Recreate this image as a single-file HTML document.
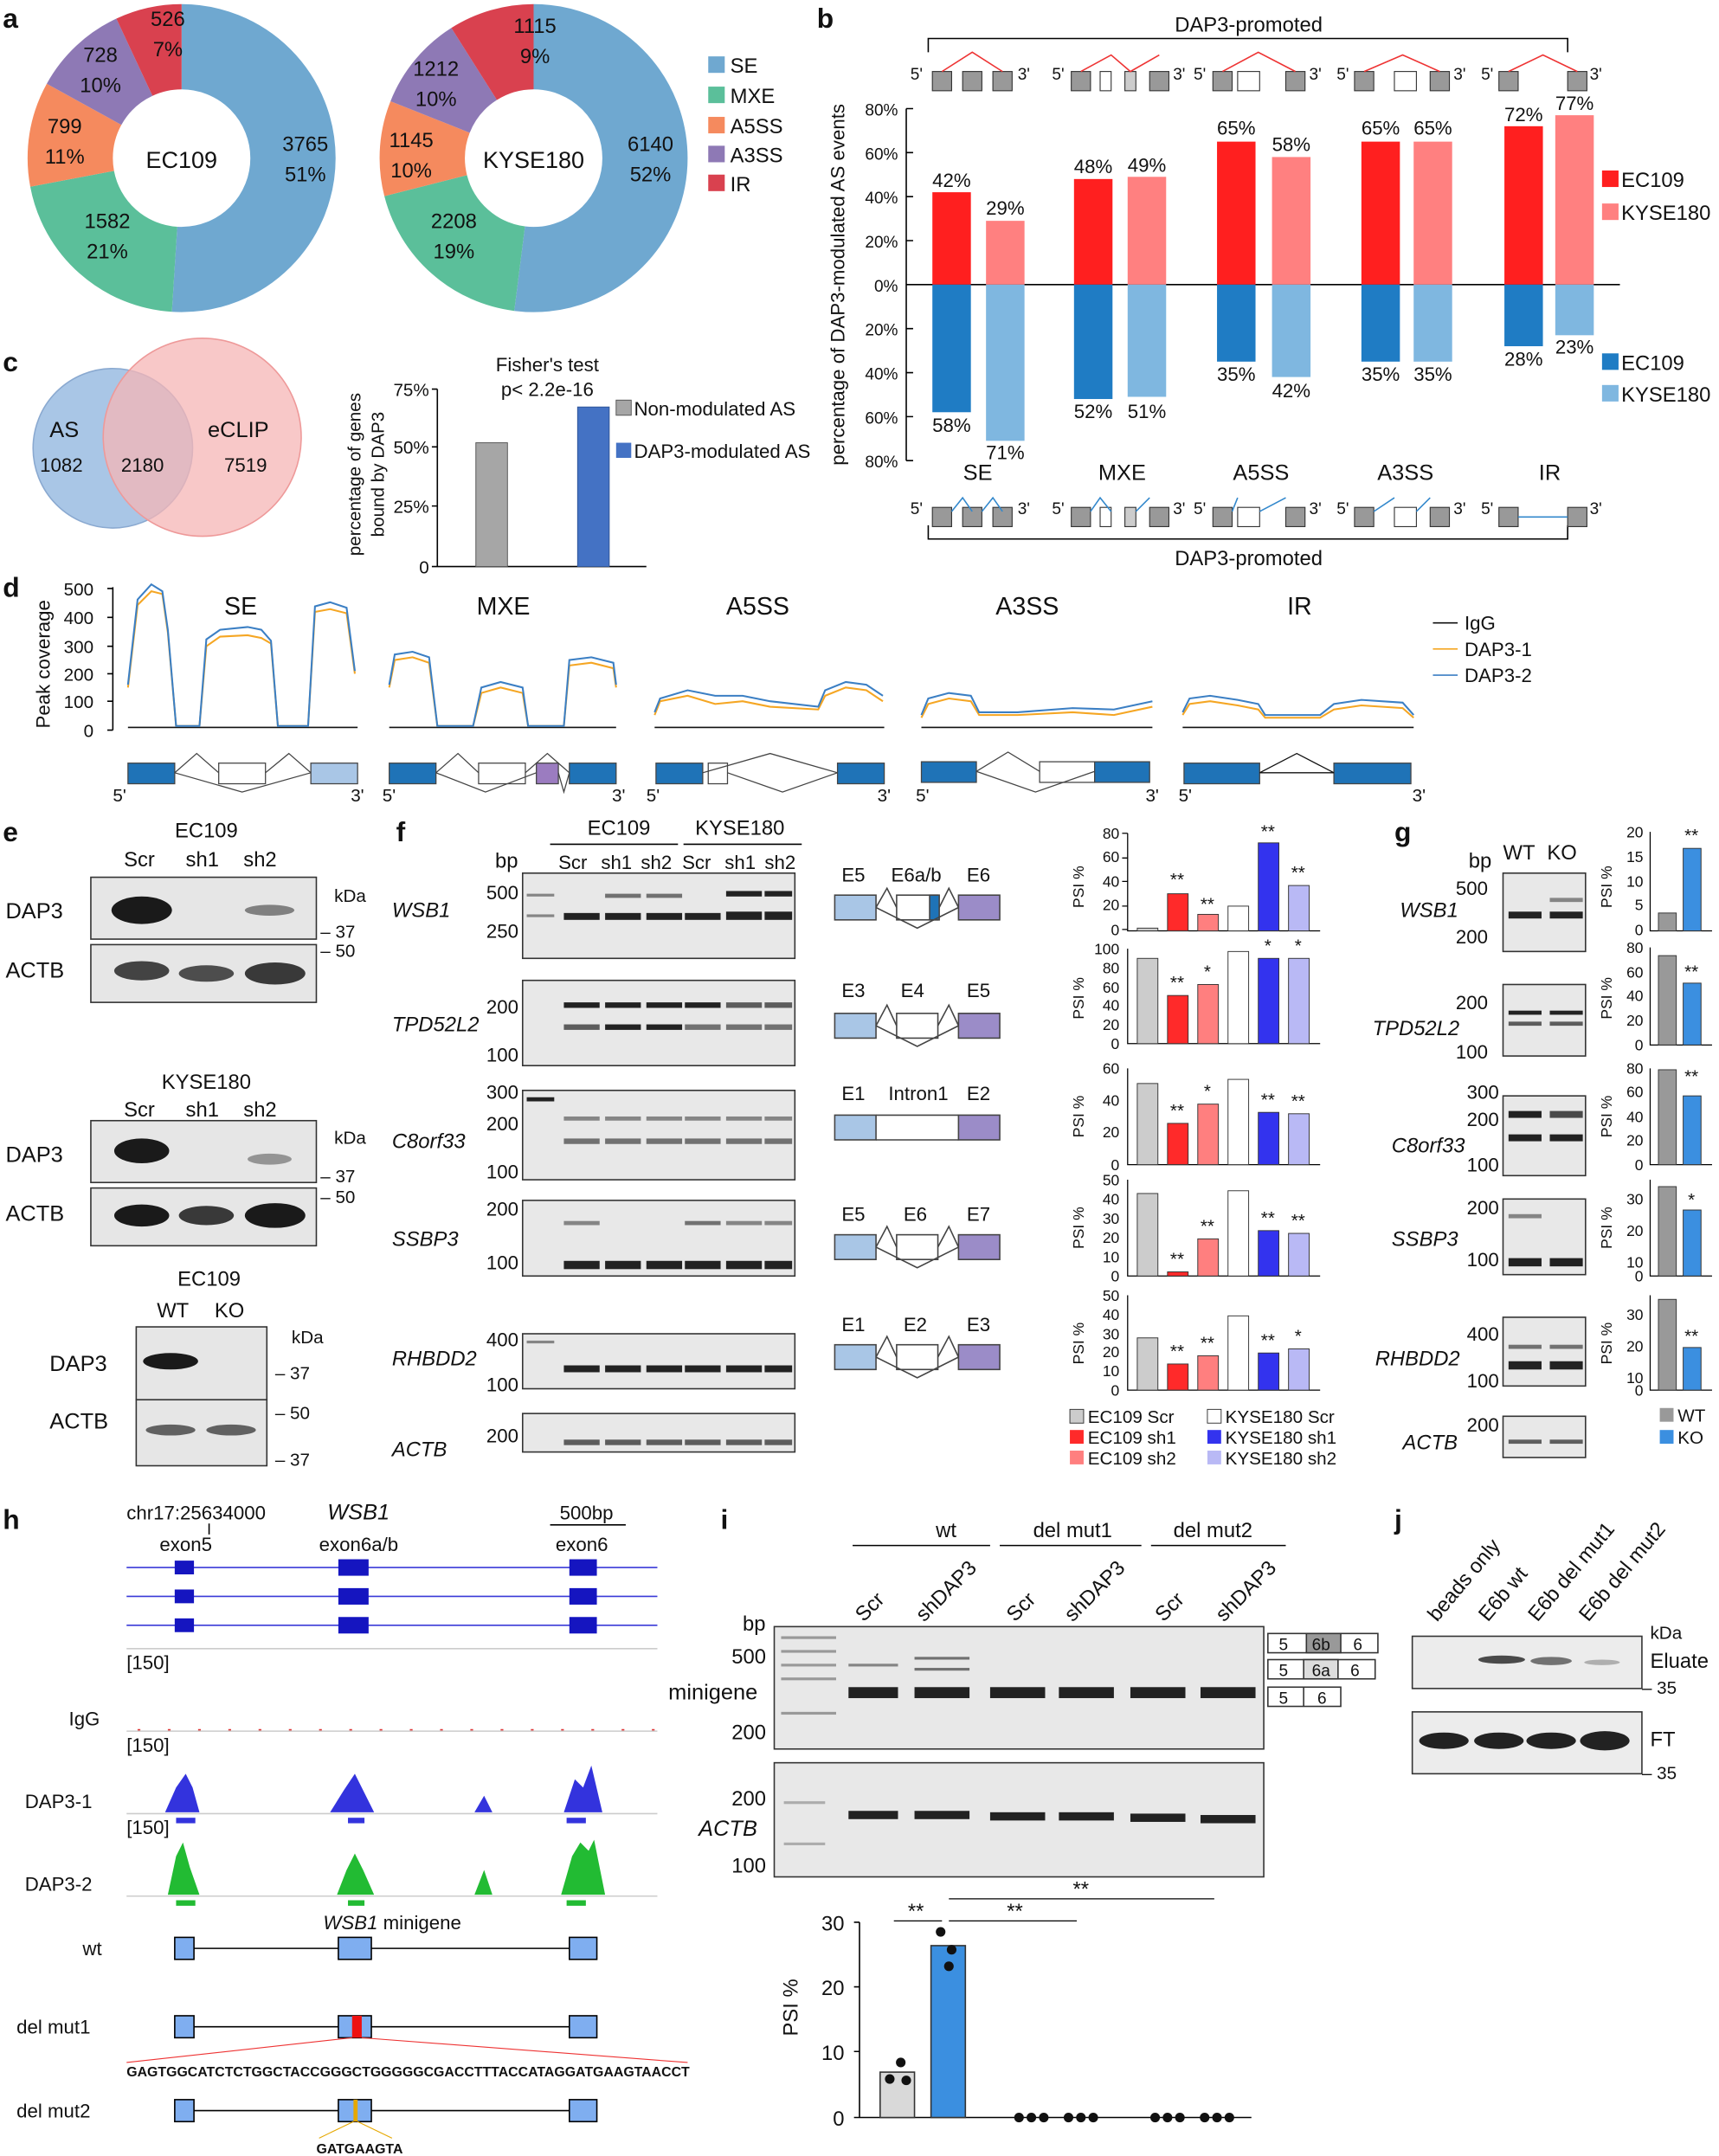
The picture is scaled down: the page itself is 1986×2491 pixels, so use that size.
<!DOCTYPE html>
<html><head><meta charset="utf-8"><style>
html,body{margin:0;padding:0;background:#fff}
svg{display:block}
text{font-family:"Liberation Sans",Arial,sans-serif;fill:#111}
.L{font-weight:bold;font-size:20px}
.t{font-size:15px}
.s{font-size:12px}
.xs{font-size:10px}
.i{font-style:italic}
</style></head><body>
<svg width="1986" height="2491" viewBox="0 0 1250 1568" xmlns="http://www.w3.org/2000/svg">
<rect width="1250" height="1568" fill="#fff"/>
<text class="L" x="2" y="20">a</text><text class="L" x="594" y="20">b</text>
<text class="L" x="2" y="270">c</text><text class="L" x="2" y="434">d</text>
<text class="L" x="2" y="612">e</text><text class="L" x="288" y="612">f</text>
<text class="L" x="1014" y="612">g</text><text class="L" x="2" y="1112">h</text>
<text class="L" x="524" y="1112">i</text><text class="L" x="1014" y="1112">j</text>

<g transform="rotate(-90 132 115)" fill="none" stroke-width="62">
<circle cx="132" cy="115" r="81" stroke="#6fa8d0" stroke-dasharray="259.5 600" stroke-dashoffset="0"/>
<circle cx="132" cy="115" r="81" stroke="#5bbf9a" stroke-dasharray="106.9 600" stroke-dashoffset="-259.5"/>
<circle cx="132" cy="115" r="81" stroke="#f58a5e" stroke-dasharray="56 600" stroke-dashoffset="-366.4"/>
<circle cx="132" cy="115" r="81" stroke="#8e79b5" stroke-dasharray="50.9 600" stroke-dashoffset="-422.4"/>
<circle cx="132" cy="115" r="81" stroke="#d9414f" stroke-dasharray="35.6 600" stroke-dashoffset="-473.3"/>
</g>
<g transform="rotate(-90 388 115)" fill="none" stroke-width="62">
<circle cx="388" cy="115" r="81" stroke="#6fa8d0" stroke-dasharray="264.6 600" stroke-dashoffset="0"/>
<circle cx="388" cy="115" r="81" stroke="#5bbf9a" stroke-dasharray="96.7 600" stroke-dashoffset="-264.6"/>
<circle cx="388" cy="115" r="81" stroke="#f58a5e" stroke-dasharray="50.9 600" stroke-dashoffset="-361.3"/>
<circle cx="388" cy="115" r="81" stroke="#8e79b5" stroke-dasharray="50.9 600" stroke-dashoffset="-412.2"/>
<circle cx="388" cy="115" r="81" stroke="#d9414f" stroke-dasharray="45.8 600" stroke-dashoffset="-463.1"/>
</g>
<g class="t" text-anchor="middle" font-size="16">
<text x="132" y="122" style="font-size:17px">EC109</text>
<text x="222" y="110">3765</text><text x="222" y="132">51%</text>
<text x="78" y="166">1582</text><text x="78" y="188">21%</text>
<text x="47" y="97">799</text><text x="47" y="119">11%</text>
<text x="73" y="45">728</text><text x="73" y="67">10%</text>
<text x="122" y="19">526</text><text x="122" y="41">7%</text>
<text x="388" y="122" style="font-size:17px">KYSE180</text>
<text x="473" y="110">6140</text><text x="473" y="132">52%</text>
<text x="330" y="166">2208</text><text x="330" y="188">19%</text>
<text x="299" y="107">1145</text><text x="299" y="129">10%</text>
<text x="317" y="55">1212</text><text x="317" y="77">10%</text>
<text x="389" y="24">1115</text><text x="389" y="46">9%</text>
</g>
<g class="t">
<rect x="515" y="41" width="12" height="12" fill="#6fa8d0"/><text x="531" y="53">SE</text>
<rect x="515" y="63" width="12" height="12" fill="#5bbf9a"/><text x="531" y="75">MXE</text>
<rect x="515" y="85" width="12" height="12" fill="#f58a5e"/><text x="531" y="97">A5SS</text>
<rect x="515" y="106" width="12" height="12" fill="#8e79b5"/><text x="531" y="118">A3SS</text>
<rect x="515" y="127" width="12" height="12" fill="#d9414f"/><text x="531" y="139">IR</text>
</g>

<path d="M675 38V28H1140V38" stroke="#000" fill="none"/>
<text class="t" x="908" y="23" text-anchor="middle">DAP3-promoted</text>
<path d="M675 382V392H1140V382" stroke="#000" fill="none"/>
<text class="t" x="908" y="411" text-anchor="middle">DAP3-promoted</text>
<g fill="#999" stroke="#333" stroke-width="0.7">
<rect x="678" y="52" width="14" height="14"/><rect x="700" y="52" width="14" height="14"/><rect x="722" y="52" width="14" height="14"/>
<rect x="779" y="52" width="14" height="14"/><rect x="800" y="52" width="8" height="14" fill="#fff"/><rect x="818" y="52" width="8" height="14" fill="#ccc"/><rect x="836" y="52" width="14" height="14"/>
<rect x="882" y="52" width="14" height="14"/><rect x="900" y="52" width="16" height="14" fill="#fff"/><rect x="935" y="52" width="14" height="14"/>
<rect x="985" y="52" width="14" height="14"/><rect x="1014" y="52" width="16" height="14" fill="#fff"/><rect x="1040" y="52" width="14" height="14"/>
<rect x="1090" y="52" width="14" height="14"/><rect x="1140" y="52" width="14" height="14"/>
<rect x="678" y="369" width="14" height="14"/><rect x="700" y="369" width="14" height="14"/><rect x="722" y="369" width="14" height="14"/>
<rect x="779" y="369" width="14" height="14"/><rect x="800" y="369" width="8" height="14" fill="#fff"/><rect x="818" y="369" width="8" height="14" fill="#ccc"/><rect x="836" y="369" width="14" height="14"/>
<rect x="882" y="369" width="14" height="14"/><rect x="900" y="369" width="16" height="14" fill="#fff"/><rect x="935" y="369" width="14" height="14"/>
<rect x="985" y="369" width="14" height="14"/><rect x="1014" y="369" width="16" height="14" fill="#fff"/><rect x="1040" y="369" width="14" height="14"/>
<rect x="1090" y="369" width="14" height="14"/><rect x="1140" y="369" width="14" height="14"/>
</g>
<g fill="none" stroke="#e33" stroke-width="1">
<path d="M685 52L707 38L729 52"/><path d="M786 52L808 40L822 52L843 40"/><path d="M889 52L915 38L942 52"/><path d="M992 52L1020 40L1047 52"/><path d="M1097 52L1122 40L1147 52"/>
</g>
<g fill="none" stroke="#38c" stroke-width="1">
<path d="M692 372L700 362L707 372M714 372L722 362L729 372"/><path d="M793 372L800 362L808 372M826 372L836 362"/><path d="M896 372L900 362M916 372L935 362"/><path d="M999 372L1014 362M1030 372L1040 362"/><path d="M1104 376H1140"/>
</g>
<g class="s">
<text x="662" y="58">5'</text><text x="740" y="58">3'</text><text x="765" y="58">5'</text><text x="853" y="58">3'</text><text x="868" y="58">5'</text><text x="952" y="58">3'</text><text x="972" y="58">5'</text><text x="1057" y="58">3'</text><text x="1077" y="58">5'</text><text x="1156" y="58">3'</text>
<text x="662" y="374">5'</text><text x="740" y="374">3'</text><text x="765" y="374">5'</text><text x="853" y="374">3'</text><text x="868" y="374">5'</text><text x="952" y="374">3'</text><text x="972" y="374">5'</text><text x="1057" y="374">3'</text><text x="1077" y="374">5'</text><text x="1156" y="374">3'</text>
</g>
<g class="s" text-anchor="end" font-size="13">
<text x="653" y="84">80%</text><text x="653" y="116">60%</text><text x="653" y="148">40%</text><text x="653" y="180">20%</text><text x="653" y="212">0%</text><text x="653" y="244">20%</text><text x="653" y="276">40%</text><text x="653" y="308">60%</text><text x="653" y="340">80%</text>
</g>
<path d="M659 79V335M659 79H664M659 111H664M659 143H664M659 175H664M659 207H1178M659 239H664M659 271H664M659 303H664M659 335H664" stroke="#000" fill="none"/>
<text class="t" transform="translate(614 207) rotate(-90)" text-anchor="middle" style="font-size:14px">percentage of DAP3-modulated AS events</text>
<g>
<rect x="678" y="139.8" width="28" height="67.2" fill="#ff1f1f"/><rect x="717" y="160.6" width="28" height="46.4" fill="#ff8080"/>
<rect x="781" y="130.2" width="28" height="76.8" fill="#ff1f1f"/><rect x="820" y="128.6" width="28" height="78.4" fill="#ff8080"/>
<rect x="885" y="103" width="28" height="104" fill="#ff1f1f"/><rect x="925" y="114.2" width="28" height="92.8" fill="#ff8080"/>
<rect x="990" y="103" width="28" height="104" fill="#ff1f1f"/><rect x="1028" y="103" width="28" height="104" fill="#ff8080"/>
<rect x="1094" y="91.8" width="28" height="115.2" fill="#ff1f1f"/><rect x="1131" y="83.8" width="28" height="123.2" fill="#ff8080"/>
<rect x="678" y="207" width="28" height="92.8" fill="#1f7cc4"/><rect x="717" y="207" width="28" height="113.6" fill="#7fb7e0"/>
<rect x="781" y="207" width="28" height="83.2" fill="#1f7cc4"/><rect x="820" y="207" width="28" height="81.6" fill="#7fb7e0"/>
<rect x="885" y="207" width="28" height="56" fill="#1f7cc4"/><rect x="925" y="207" width="28" height="67.2" fill="#7fb7e0"/>
<rect x="990" y="207" width="28" height="56" fill="#1f7cc4"/><rect x="1028" y="207" width="28" height="56" fill="#7fb7e0"/>
<rect x="1094" y="207" width="28" height="44.8" fill="#1f7cc4"/><rect x="1131" y="207" width="28" height="36.8" fill="#7fb7e0"/>
</g>
<g class="t" text-anchor="middle" style="font-size:14px">
<text x="692" y="136">42%</text><text x="731" y="156">29%</text><text x="795" y="126">48%</text><text x="834" y="125">49%</text>
<text x="899" y="98">65%</text><text x="939" y="110">58%</text><text x="1004" y="98">65%</text><text x="1042" y="98">65%</text>
<text x="1108" y="88">72%</text><text x="1145" y="80">77%</text>
<text x="692" y="314">58%</text><text x="731" y="334">71%</text><text x="795" y="304">52%</text><text x="834" y="304">51%</text>
<text x="899" y="277">35%</text><text x="939" y="289">42%</text><text x="1004" y="277">35%</text><text x="1042" y="277">35%</text>
<text x="1108" y="266">28%</text><text x="1145" y="257">23%</text>
<text x="711" y="349" style="font-size:16px">SE</text><text x="816" y="349" style="font-size:16px">MXE</text><text x="917" y="349" style="font-size:16px">A5SS</text><text x="1022" y="349" style="font-size:16px">A3SS</text><text x="1127" y="349" style="font-size:16px">IR</text>
</g>
<g class="t">
<rect x="1165" y="124" width="12" height="12" fill="#ff1f1f"/><text x="1179" y="136">EC109</text>
<rect x="1165" y="148" width="12" height="12" fill="#ff8080"/><text x="1179" y="160">KYSE180</text>
<rect x="1165" y="257" width="12" height="12" fill="#1f7cc4"/><text x="1179" y="269">EC109</text>
<rect x="1165" y="280" width="12" height="12" fill="#7fb7e0"/><text x="1179" y="292">KYSE180</text>
</g>

<circle cx="82" cy="326" r="58" fill="#a9c6e6" stroke="#8aa9d0"/>
<circle cx="147" cy="318" r="72" fill="#f6b6b6" fill-opacity="0.75" stroke="#e99"/>
<g class="t" style="font-size:16px"><text x="36" y="318">AS</text><text x="151" y="318">eCLIP</text></g>
<g class="t" style="font-size:14px"><text x="29" y="343">1082</text><text x="88" y="343">2180</text><text x="163" y="343">7519</text></g>
<text class="t" x="398" y="270" text-anchor="middle" style="font-size:14px">Fisher's test</text>
<text class="t" x="398" y="288" text-anchor="middle" style="font-size:14px">p&lt; 2.2e-16</text>
<path d="M318 283V412H470M314 283H318M314 325H318M314 368H318M314 412H318" stroke="#000" fill="none"/>
<g class="s" text-anchor="end" style="font-size:13px"><text x="312" y="288">75%</text><text x="312" y="330">50%</text><text x="312" y="373">25%</text><text x="312" y="417">0</text></g>
<text class="s" transform="translate(262 345) rotate(-90)" text-anchor="middle" style="font-size:13px">percentage of genes</text>
<text class="s" transform="translate(279 345) rotate(-90)" text-anchor="middle" style="font-size:13px">bound by DAP3</text>
<rect x="346" y="322" width="23" height="90" fill="#a6a6a6" stroke="#555" stroke-width="0.6"/>
<rect x="420" y="296" width="23" height="116" fill="#4472c4" stroke="#2f5597" stroke-width="0.6"/>
<g class="t" style="font-size:14px">
<rect x="448" y="291" width="11" height="11" fill="#a6a6a6" stroke="#555" stroke-width="0.6"/><text x="461" y="302">Non-modulated AS</text>
<rect x="448" y="322" width="11" height="11" fill="#4472c4"/><text x="461" y="333">DAP3-modulated AS</text>
</g>

<path d="M82 427V531M78 428H82M78 449H82M78 470H82M78 490H82M78 510H82M78 531H82" stroke="#000" fill="none"/>
<g class="s" text-anchor="end" style="font-size:13px"><text x="68" y="433">500</text><text x="68" y="454">400</text><text x="68" y="475">300</text><text x="68" y="495">200</text><text x="68" y="515">100</text><text x="68" y="536">0</text></g>
<text class="t" transform="translate(36 483) rotate(-90)" text-anchor="middle" style="font-size:14px">Peak coverage</text>
<g class="t" style="font-size:18px" text-anchor="middle"><text x="175" y="447">SE</text><text x="366" y="447">MXE</text><text x="551" y="447">A5SS</text><text x="747" y="447">A3SS</text><text x="945" y="447">IR</text></g>
<g fill="none" stroke="#111" stroke-width="1"><path d="M93 529H260M283 529H448M476 529H643M670 529H838M860 529H1028"/></g>
<g fill="none" stroke="#f5a623" stroke-width="1.3">
<path d="M93 500L100 440L110 430L118 432L122 460L128 528L145 528L150 470L160 463L180 462L190 464L197 468L202 528L224 528L229 445L240 443L252 446L258 490"/>
<path d="M283 500L287 480L300 478L312 482L318 528L344 528L350 504L364 500L380 504L384 528L410 528L414 484L430 482L446 486L448 500"/>
<path d="M476 520L480 510L500 506L520 512L540 510L560 514L595 516L600 506L615 500L630 502L642 510"/>
<path d="M670 522L675 512L690 508L706 510L712 520L740 520L780 518L810 520L838 514"/>
<path d="M860 520L865 512L880 510L900 513L915 516L920 522L960 522L970 516L990 513L1020 515L1028 522"/>
</g>
<g fill="none" stroke="#3b7fc4" stroke-width="1.3">
<path d="M93 498L100 436L110 425L118 430L122 458L128 528L145 528L150 465L160 458L180 456L190 458L197 466L202 528L224 528L229 441L240 438L252 442L258 488"/>
<path d="M283 498L287 476L300 474L312 478L318 528L344 528L350 500L364 496L380 500L384 528L410 528L414 480L430 478L446 482L448 498"/>
<path d="M476 518L480 508L500 502L520 506L540 506L560 510L595 514L600 502L615 496L630 498L642 506"/>
<path d="M670 520L675 508L690 504L706 506L712 518L740 518L780 515L810 516L838 510"/>
<path d="M860 518L865 508L880 506L900 509L915 512L920 520L960 520L970 512L990 509L1020 511L1028 520"/>
</g>
<g class="t" style="font-size:14px">
<path d="M1042 453H1060" stroke="#111"/><text x="1065" y="458">IgG</text>
<path d="M1042 472H1060" stroke="#f5a623"/><text x="1065" y="477">DAP3-1</text>
<path d="M1042 491H1060" stroke="#3b7fc4"/><text x="1065" y="496">DAP3-2</text>
</g>
<g stroke="#444" stroke-width="0.8" fill="none">
<rect x="93" y="555" width="34" height="15" fill="#1f73b7"/><rect x="159" y="555" width="34" height="15" fill="#fff"/><rect x="226" y="555" width="34" height="15" fill="#a9c6e6"/>
<path d="M127 562L143 548L159 562M193 562L210 548L226 562M127 562L176 576L226 562"/>
<rect x="283" y="555" width="34" height="15" fill="#1f73b7"/><rect x="348" y="555" width="34" height="15" fill="#fff"/><rect x="390" y="555" width="16" height="15" fill="#9b7cc0"/><rect x="414" y="555" width="34" height="15" fill="#1f73b7"/>
<path d="M317 562L333 548L348 562M382 562L398 548L414 562M317 562L353 576L390 562M406 562L410 576L414 562"/>
<rect x="477" y="555" width="34" height="15" fill="#1f73b7"/><rect x="515" y="555" width="14" height="15" fill="#fff"/><rect x="609" y="555" width="34" height="15" fill="#1f73b7"/>
<path d="M511 562L560 548L609 562M529 562L569 576L609 562"/>
<rect x="670" y="554" width="40" height="15" fill="#1f73b7"/><rect x="756" y="554" width="40" height="15" fill="#fff"/><rect x="796" y="554" width="40" height="15" fill="#1f73b7"/>
<path d="M710 561L733 547L756 561M710 561L753 576L796 561"/>
<rect x="861" y="555" width="55" height="15" fill="#1f73b7"/><rect x="970" y="555" width="56" height="15" fill="#1f73b7"/>
<path d="M916 562L943 548L970 562M916 562H970" stroke="#111"/>
</g>
<g class="s" style="font-size:13px"><text x="82" y="583">5'</text><text x="255" y="583">3'</text><text x="278" y="583">5'</text><text x="445" y="583">3'</text><text x="470" y="583">5'</text><text x="638" y="583">3'</text><text x="666" y="583">5'</text><text x="833" y="583">3'</text><text x="857" y="583">5'</text><text x="1027" y="583">3'</text></g>

<g class="t">
<text x="150" y="609" text-anchor="middle">EC109</text>
<text x="90" y="630">Scr</text><text x="135" y="630">sh1</text><text x="177" y="630">sh2</text>
<text x="4" y="668" style="font-size:16px">DAP3</text><text x="4" y="711" style="font-size:16px">ACTB</text>
<text x="150" y="792" text-anchor="middle">KYSE180</text>
<text x="90" y="812">Scr</text><text x="135" y="812">sh1</text><text x="177" y="812">sh2</text>
<text x="4" y="845" style="font-size:16px">DAP3</text><text x="4" y="888" style="font-size:16px">ACTB</text>
<text x="152" y="935" text-anchor="middle">EC109</text>
<text x="114" y="958">WT</text><text x="156" y="958">KO</text>
<text x="36" y="997" style="font-size:16px">DAP3</text><text x="36" y="1039" style="font-size:16px">ACTB</text>
</g>
<g class="s" style="font-size:13px">
<text x="243" y="656">kDa</text><text x="233" y="682">– 37</text><text x="233" y="696">– 50</text>
<text x="243" y="832">kDa</text><text x="233" y="860">– 37</text><text x="233" y="875">– 50</text>
<text x="212" y="977">kDa</text><text x="200" y="1003">– 37</text><text x="200" y="1032">– 50</text><text x="200" y="1066">– 37</text>
</g>
<g fill="#e6e6e6" stroke="#333" stroke-width="1">
<rect x="66" y="638" width="164" height="45"/><rect x="66" y="687" width="164" height="42"/>
<rect x="66" y="815" width="164" height="45"/><rect x="66" y="864" width="164" height="42"/>
<rect x="99" y="965" width="95" height="53"/><rect x="99" y="1018" width="95" height="48"/>
</g>
<g fill="#1a1a1a">
<ellipse cx="103" cy="662" rx="22" ry="10"/><ellipse cx="196" cy="662" rx="18" ry="4" opacity=".5"/>
<ellipse cx="103" cy="706" rx="20" ry="7" opacity=".8"/><ellipse cx="150" cy="708" rx="20" ry="6" opacity=".75"/><ellipse cx="200" cy="708" rx="22" ry="8" opacity=".85"/>
<ellipse cx="103" cy="837" rx="20" ry="9"/><ellipse cx="196" cy="843" rx="16" ry="4" opacity=".4"/>
<ellipse cx="103" cy="884" rx="20" ry="8"/><ellipse cx="150" cy="884" rx="20" ry="7" opacity=".85"/><ellipse cx="200" cy="884" rx="22" ry="9"/>
<ellipse cx="124" cy="990" rx="20" ry="6"/>
<ellipse cx="124" cy="1040" rx="18" ry="4" opacity=".65"/><ellipse cx="168" cy="1040" rx="18" ry="4" opacity=".65"/>
</g>

<g class="t">
<text x="450" y="607" text-anchor="middle">EC109</text><text x="538" y="607" text-anchor="middle">KYSE180</text>
<path d="M400 614H493M497 614H583" stroke="#000"/>
<g style="font-size:14px"><text x="406" y="632">Scr</text><text x="437" y="632">sh1</text><text x="466" y="632">sh2</text><text x="496" y="632">Scr</text><text x="527" y="632">sh1</text><text x="556" y="632">sh2</text></g>
<text x="360" y="631">bp</text>
<g class="i"><text x="285" y="667">WSB1</text><text x="285" y="750">TPD52L2</text><text x="285" y="835">C8orf33</text><text x="285" y="906">SSBP3</text><text x="285" y="993">RHBDD2</text><text x="285" y="1059">ACTB</text></g>
<g text-anchor="end" style="font-size:14px"><text x="377" y="654">500</text><text x="377" y="682">250</text><text x="377" y="737">200</text><text x="377" y="772">100</text><text x="377" y="799">300</text><text x="377" y="822">200</text><text x="377" y="857">100</text><text x="377" y="884">200</text><text x="377" y="923">100</text><text x="377" y="979">400</text><text x="377" y="1012">100</text><text x="377" y="1049">200</text></g>
</g>
<g fill="#e8e8e8" stroke="#333">
<rect x="380" y="635" width="198" height="62"/><rect x="380" y="713" width="198" height="62"/><rect x="380" y="793" width="198" height="65"/><rect x="380" y="873" width="198" height="55"/><rect x="380" y="970" width="198" height="40"/><rect x="380" y="1028" width="198" height="28"/>
</g>
<g fill="#222">
<rect x="410" y="664" width="26" height="5"/><rect x="440" y="664" width="26" height="5"/><rect x="470" y="664" width="26" height="5"/><rect x="498" y="664" width="26" height="5"/><rect x="528" y="663" width="26" height="6"/><rect x="556" y="663" width="20" height="6"/>
<rect x="440" y="650" width="26" height="3" opacity=".6"/><rect x="470" y="650" width="26" height="3" opacity=".6"/><rect x="528" y="648" width="26" height="4"/><rect x="556" y="648" width="20" height="4"/>
<rect x="410" y="729" width="26" height="4"/><rect x="440" y="729" width="26" height="4"/><rect x="470" y="729" width="26" height="4"/><rect x="498" y="729" width="26" height="4"/><rect x="528" y="729" width="26" height="4" opacity=".7"/><rect x="556" y="729" width="20" height="4" opacity=".7"/>
<rect x="410" y="745" width="26" height="4" opacity=".7"/><rect x="440" y="745" width="26" height="4"/><rect x="470" y="745" width="26" height="4"/><rect x="498" y="745" width="26" height="4" opacity=".6"/><rect x="528" y="745" width="26" height="4" opacity=".6"/><rect x="556" y="745" width="20" height="4" opacity=".6"/>
<rect x="410" y="812" width="26" height="3" opacity=".5"/><rect x="440" y="812" width="26" height="3" opacity=".5"/><rect x="470" y="812" width="26" height="3" opacity=".5"/><rect x="498" y="812" width="26" height="3" opacity=".5"/><rect x="528" y="812" width="26" height="3" opacity=".5"/><rect x="556" y="812" width="20" height="3" opacity=".5"/>
<rect x="410" y="828" width="26" height="4" opacity=".6"/><rect x="440" y="828" width="26" height="4" opacity=".6"/><rect x="470" y="828" width="26" height="4" opacity=".6"/><rect x="498" y="828" width="26" height="4" opacity=".6"/><rect x="528" y="828" width="26" height="4" opacity=".6"/><rect x="556" y="828" width="20" height="4" opacity=".6"/>
<rect x="410" y="888" width="26" height="3" opacity=".5"/><rect x="498" y="888" width="26" height="3" opacity=".6"/><rect x="528" y="888" width="26" height="3" opacity=".5"/><rect x="556" y="888" width="20" height="3" opacity=".5"/>
<rect x="410" y="917" width="26" height="6"/><rect x="440" y="917" width="26" height="6"/><rect x="470" y="917" width="26" height="6"/><rect x="498" y="917" width="26" height="6"/><rect x="528" y="917" width="26" height="6"/><rect x="556" y="917" width="20" height="6"/>
<rect x="410" y="993" width="26" height="5"/><rect x="440" y="993" width="26" height="5"/><rect x="470" y="993" width="26" height="5"/><rect x="498" y="993" width="26" height="5"/><rect x="528" y="993" width="26" height="5"/><rect x="556" y="993" width="20" height="5"/>
<rect x="410" y="1047" width="26" height="4" opacity=".7"/><rect x="440" y="1047" width="26" height="4" opacity=".7"/><rect x="470" y="1047" width="26" height="4" opacity=".7"/><rect x="498" y="1047" width="26" height="4" opacity=".7"/><rect x="528" y="1047" width="26" height="4" opacity=".7"/><rect x="556" y="1047" width="20" height="4" opacity=".7"/>
<rect x="383" y="650" width="20" height="2" opacity=".5"/><rect x="383" y="665" width="20" height="2" opacity=".5"/><rect x="383" y="798" width="20" height="3"/><rect x="383" y="975" width="20" height="2" opacity=".5"/>
</g>
<g class="t" style="font-size:14px"><text x="612" y="641">E5</text><text x="648" y="641">E6a/b</text><text x="703" y="641">E6</text><text x="612" y="725">E3</text><text x="655" y="725">E4</text><text x="703" y="725">E5</text><text x="612" y="800">E1</text><text x="646" y="800">Intron1</text><text x="703" y="800">E2</text><text x="612" y="888">E5</text><text x="657" y="888">E6</text><text x="703" y="888">E7</text><text x="612" y="968">E1</text><text x="657" y="968">E2</text><text x="703" y="968">E3</text></g>
<g stroke="#444" fill="none">
<rect x="607" y="651" width="30" height="18" fill="#a9c6e6"/><rect x="652" y="651" width="30" height="18" fill="#fff"/><rect x="676" y="651" width="7" height="18" fill="#1f73b7"/><rect x="697" y="651" width="30" height="18" fill="#9b8cc8"/>
<path d="M637 660L645 646L652 660M683 660L690 646L697 660M637 660L667 675L697 660"/>
<rect x="607" y="737" width="30" height="18" fill="#a9c6e6"/><rect x="652" y="737" width="30" height="18" fill="#fff"/><rect x="697" y="737" width="30" height="18" fill="#9b8cc8"/>
<path d="M637 746L645 731L652 746M682 746L690 731L697 746M637 746L667 761L697 746"/>
<rect x="607" y="811" width="30" height="18" fill="#a9c6e6"/><rect x="697" y="811" width="30" height="18" fill="#9b8cc8"/><path d="M637 811H697M637 829H697"/>
<rect x="607" y="898" width="30" height="18" fill="#a9c6e6"/><rect x="652" y="898" width="30" height="18" fill="#fff"/><rect x="697" y="898" width="30" height="18" fill="#9b8cc8"/>
<path d="M637 907L645 892L652 907M682 907L690 892L697 907M637 907L667 922L697 907"/>
<rect x="607" y="978" width="30" height="18" fill="#a9c6e6"/><rect x="652" y="978" width="30" height="18" fill="#fff"/><rect x="697" y="978" width="30" height="18" fill="#9b8cc8"/>
<path d="M637 987L645 972L652 987M682 987L690 972L697 987M637 987L667 1002L697 987"/>
</g>
<g stroke="#000" fill="none" stroke-width="0.8">
<path d="M820 606V677H960M820 676H816M820 659H816M820 641H816M820 624H816M820 606H816"/>
<path d="M820 690V759H960"/><path d="M820 777V847H960"/><path d="M820 858V928H960"/><path d="M820 942V1011H960"/>
</g>
<g class="xs" text-anchor="end" style="font-size:11px">
<text x="814" y="610">80</text><text x="814" y="627">60</text><text x="814" y="645">40</text><text x="814" y="662">20</text><text x="814" y="680">0</text>
<text x="814" y="694">100</text><text x="814" y="708">80</text><text x="814" y="722">60</text><text x="814" y="735">40</text><text x="814" y="749">20</text><text x="814" y="763">0</text>
<text x="814" y="781">60</text><text x="814" y="804">40</text><text x="814" y="827">20</text><text x="814" y="851">0</text>
<text x="814" y="862">50</text><text x="814" y="876">40</text><text x="814" y="890">30</text><text x="814" y="904">20</text><text x="814" y="918">10</text><text x="814" y="932">0</text>
<text x="814" y="946">50</text><text x="814" y="960">40</text><text x="814" y="974">30</text><text x="814" y="987">20</text><text x="814" y="1001">10</text><text x="814" y="1015">0</text>
</g>
<g class="xs" style="font-size:11px">
<text transform="translate(788 645) rotate(-90)" text-anchor="middle">PSI %</text><text transform="translate(788 726) rotate(-90)" text-anchor="middle">PSI %</text><text transform="translate(788 812) rotate(-90)" text-anchor="middle">PSI %</text><text transform="translate(788 893) rotate(-90)" text-anchor="middle">PSI %</text><text transform="translate(788 977) rotate(-90)" text-anchor="middle">PSI %</text>
</g>
<g stroke="#333" stroke-width="0.6">
<rect x="827" y="675" width="15" height="2" fill="#ccc"/><rect x="849" y="650" width="15" height="27" fill="#ff2a2a"/><rect x="871" y="665" width="15" height="12" fill="#ff7f7f"/><rect x="893" y="659" width="15" height="18" fill="#fff"/><rect x="915" y="613" width="15" height="64" fill="#3333ee"/><rect x="937" y="644" width="15" height="33" fill="#b9b9f5"/>
<rect x="827" y="697" width="15" height="62" fill="#ccc"/><rect x="849" y="724" width="15" height="35" fill="#ff2a2a"/><rect x="871" y="716" width="15" height="43" fill="#ff7f7f"/><rect x="893" y="692" width="15" height="67" fill="#fff"/><rect x="915" y="697" width="15" height="62" fill="#3333ee"/><rect x="937" y="697" width="15" height="62" fill="#b9b9f5"/>
<rect x="827" y="788" width="15" height="59" fill="#ccc"/><rect x="849" y="817" width="15" height="30" fill="#ff2a2a"/><rect x="871" y="803" width="15" height="44" fill="#ff7f7f"/><rect x="893" y="785" width="15" height="62" fill="#fff"/><rect x="915" y="809" width="15" height="38" fill="#3333ee"/><rect x="937" y="810" width="15" height="37" fill="#b9b9f5"/>
<rect x="827" y="868" width="15" height="60" fill="#ccc"/><rect x="849" y="925" width="15" height="3" fill="#ff2a2a"/><rect x="871" y="901" width="15" height="27" fill="#ff7f7f"/><rect x="893" y="866" width="15" height="62" fill="#fff"/><rect x="915" y="895" width="15" height="33" fill="#3333ee"/><rect x="937" y="897" width="15" height="31" fill="#b9b9f5"/>
<rect x="827" y="973" width="15" height="38" fill="#ccc"/><rect x="849" y="992" width="15" height="19" fill="#ff2a2a"/><rect x="871" y="986" width="15" height="25" fill="#ff7f7f"/><rect x="893" y="957" width="15" height="54" fill="#fff"/><rect x="915" y="984" width="15" height="27" fill="#3333ee"/><rect x="937" y="981" width="15" height="30" fill="#b9b9f5"/>
</g>
<g class="s" text-anchor="middle" style="font-size:13px">
<text x="856" y="644">**</text><text x="878" y="662">**</text><text x="922" y="609">**</text><text x="944" y="639">**</text>
<text x="856" y="719">**</text><text x="878" y="711">*</text><text x="922" y="692">*</text><text x="944" y="692">*</text>
<text x="856" y="812">**</text><text x="878" y="798">*</text><text x="922" y="804">**</text><text x="944" y="805">**</text>
<text x="856" y="920">**</text><text x="878" y="896">**</text><text x="922" y="890">**</text><text x="944" y="892">**</text>
<text x="856" y="987">**</text><text x="878" y="981">**</text><text x="922" y="979">**</text><text x="944" y="976">*</text>
</g>
<g class="s" style="font-size:13px">
<rect x="778" y="1025" width="10" height="10" fill="#ccc" stroke="#333" stroke-width=".6"/><text x="791" y="1035">EC109 Scr</text>
<rect x="778" y="1040" width="10" height="10" fill="#ff2a2a"/><text x="791" y="1050">EC109 sh1</text>
<rect x="778" y="1055" width="10" height="10" fill="#ff7f7f"/><text x="791" y="1065">EC109 sh2</text>
<rect x="878" y="1025" width="10" height="10" fill="#fff" stroke="#333" stroke-width=".6"/><text x="891" y="1035">KYSE180 Scr</text>
<rect x="878" y="1040" width="10" height="10" fill="#3333ee"/><text x="891" y="1050">KYSE180 sh1</text>
<rect x="878" y="1055" width="10" height="10" fill="#b9b9f5"/><text x="891" y="1065">KYSE180 sh2</text>
</g>

<g class="t">
<text x="1068" y="631">bp</text><text x="1093" y="625">WT</text><text x="1125" y="625">KO</text>
<g class="i"><text x="1018" y="667">WSB1</text><text x="998" y="753">TPD52L2</text><text x="1012" y="838">C8orf33</text><text x="1012" y="906">SSBP3</text><text x="1000" y="993">RHBDD2</text><text x="1020" y="1054">ACTB</text></g>
<g text-anchor="end" style="font-size:14px"><text x="1082" y="651">500</text><text x="1082" y="686">200</text><text x="1082" y="734">200</text><text x="1082" y="770">100</text><text x="1090" y="799">300</text><text x="1090" y="819">200</text><text x="1090" y="852">100</text><text x="1090" y="883">200</text><text x="1090" y="921">100</text><text x="1090" y="975">400</text><text x="1090" y="1009">100</text><text x="1090" y="1041">200</text></g>
</g>
<g fill="#e8e8e8" stroke="#333">
<rect x="1093" y="635" width="60" height="57"/><rect x="1093" y="716" width="60" height="52"/><rect x="1093" y="797" width="60" height="58"/><rect x="1093" y="872" width="60" height="55"/><rect x="1093" y="958" width="60" height="50"/><rect x="1093" y="1030" width="60" height="30"/>
</g>
<g fill="#222">
<rect x="1097" y="663" width="24" height="5"/><rect x="1127" y="663" width="24" height="5"/><rect x="1127" y="653" width="24" height="3" opacity=".5"/>
<rect x="1097" y="735" width="24" height="3"/><rect x="1127" y="735" width="24" height="3"/><rect x="1097" y="743" width="24" height="3" opacity=".7"/><rect x="1127" y="743" width="24" height="3" opacity=".7"/>
<rect x="1097" y="808" width="24" height="5"/><rect x="1127" y="808" width="24" height="5" opacity=".8"/><rect x="1097" y="825" width="24" height="5"/><rect x="1127" y="825" width="24" height="5"/>
<rect x="1097" y="883" width="24" height="3" opacity=".5"/><rect x="1097" y="915" width="24" height="6"/><rect x="1127" y="915" width="24" height="6"/>
<rect x="1097" y="978" width="24" height="3" opacity=".6"/><rect x="1127" y="978" width="24" height="3" opacity=".6"/><rect x="1097" y="990" width="24" height="6"/><rect x="1127" y="990" width="24" height="6"/>
<rect x="1097" y="1047" width="24" height="3" opacity=".7"/><rect x="1127" y="1047" width="24" height="3" opacity=".7"/>
</g>
<g stroke="#000" fill="none" stroke-width="0.8">
<path d="M1200 605V677H1245"/><path d="M1200 689V760H1245"/><path d="M1200 777V847H1245"/><path d="M1200 858V928H1245"/><path d="M1200 942V1011H1245"/>
</g>
<g class="xs" text-anchor="end" style="font-size:11px">
<text x="1195" y="609">20</text><text x="1195" y="627">15</text><text x="1195" y="645">10</text><text x="1195" y="662">5</text><text x="1195" y="680">0</text>
<text x="1195" y="693">80</text><text x="1195" y="711">60</text><text x="1195" y="728">40</text><text x="1195" y="746">20</text><text x="1195" y="764">0</text>
<text x="1195" y="781">80</text><text x="1195" y="798">60</text><text x="1195" y="816">40</text><text x="1195" y="833">20</text><text x="1195" y="851">0</text>
<text x="1195" y="876">30</text><text x="1195" y="899">20</text><text x="1195" y="922">10</text><text x="1195" y="932">0</text>
<text x="1195" y="960">30</text><text x="1195" y="983">20</text><text x="1195" y="1006">10</text><text x="1195" y="1015">0</text>
</g>
<g class="xs" style="font-size:11px">
<text transform="translate(1172 645) rotate(-90)" text-anchor="middle">PSI %</text><text transform="translate(1172 726) rotate(-90)" text-anchor="middle">PSI %</text><text transform="translate(1172 812) rotate(-90)" text-anchor="middle">PSI %</text><text transform="translate(1172 893) rotate(-90)" text-anchor="middle">PSI %</text><text transform="translate(1172 977) rotate(-90)" text-anchor="middle">PSI %</text>
</g>
<g stroke="#333" stroke-width="0.6">
<rect x="1206" y="664" width="13" height="13" fill="#999"/><rect x="1224" y="617" width="13" height="60" fill="#3b8fe0"/>
<rect x="1206" y="695" width="13" height="65" fill="#999"/><rect x="1224" y="715" width="13" height="45" fill="#3b8fe0"/>
<rect x="1206" y="778" width="13" height="69" fill="#999"/><rect x="1224" y="797" width="13" height="50" fill="#3b8fe0"/>
<rect x="1206" y="863" width="13" height="65" fill="#999"/><rect x="1224" y="880" width="13" height="48" fill="#3b8fe0"/>
<rect x="1206" y="945" width="13" height="66" fill="#999"/><rect x="1224" y="980" width="13" height="31" fill="#3b8fe0"/>
</g>
<g class="s" text-anchor="middle" style="font-size:13px"><text x="1230" y="612">**</text><text x="1230" y="711">**</text><text x="1230" y="787">**</text><text x="1230" y="877">*</text><text x="1230" y="976">**</text></g>
<g class="s" style="font-size:13px">
<rect x="1207" y="1024" width="10" height="10" fill="#999"/><text x="1220" y="1034">WT</text>
<rect x="1207" y="1040" width="10" height="10" fill="#3b8fe0"/><text x="1220" y="1050">KO</text>
</g>

<g class="t" style="font-size:14px">
<text x="92" y="1105">chr17:25634000</text><text x="238" y="1105" class="i" style="font-size:16px">WSB1</text><text x="407" y="1105">500bp</text>
<text x="116" y="1128">exon5</text><text x="232" y="1128">exon6a/b</text><text x="404" y="1128">exon6</text>
<text x="92" y="1214">[150]</text><text x="50" y="1255">IgG</text><text x="92" y="1274">[150]</text><text x="18" y="1315">DAP3-1</text><text x="92" y="1334">[150]</text><text x="18" y="1375">DAP3-2</text>
<text x="235" y="1403"><tspan class="i">WSB1</tspan> minigene</text>
<text x="60" y="1422">wt</text><text x="12" y="1479">del mut1</text><text x="12" y="1540">del mut2</text>
</g>
<path d="M152 1108V1116M400 1109H455" stroke="#000"/>
<g stroke="#3a3ad8" stroke-width="1">
<path d="M92 1140H478M92 1161H478M92 1182H478"/>
</g>
<g fill="#1515c0">
<rect x="127" y="1135" width="14" height="10"/><rect x="246" y="1134" width="22" height="12"/><rect x="414" y="1134" width="20" height="12"/>
<rect x="127" y="1156" width="14" height="10"/><rect x="246" y="1155" width="22" height="12"/><rect x="414" y="1155" width="20" height="12"/>
<rect x="127" y="1177" width="14" height="10"/><rect x="246" y="1176" width="22" height="12"/><rect x="414" y="1176" width="20" height="12"/>
</g>
<path d="M92 1199H478M92 1259H478M92 1319H478M92 1379H478" stroke="#ccc"/>
<path d="M100 1258H478" stroke="#d33" stroke-dasharray="2 20"/>
<g fill="#3333dd">
<path d="M120 1318L128 1300L135 1290L140 1300L145 1318Z"/><path d="M240 1318L250 1302L258 1290L265 1304L272 1318Z"/><path d="M345 1318L352 1306L358 1318Z"/><path d="M410 1318L418 1294L424 1300L430 1284L438 1318Z"/>
<rect x="128" y="1322" width="14" height="4"/><rect x="253" y="1322" width="12" height="4"/><rect x="412" y="1322" width="14" height="4"/>
</g>
<g fill="#22bb33">
<path d="M122 1378L128 1350L133 1340L138 1358L145 1378Z"/><path d="M245 1378L252 1360L258 1348L264 1360L272 1378Z"/><path d="M345 1378L352 1360L358 1378Z"/><path d="M408 1378L416 1350L422 1340L428 1346L432 1338L440 1378Z"/>
<rect x="128" y="1382" width="14" height="4"/><rect x="253" y="1382" width="12" height="4"/><rect x="412" y="1382" width="14" height="4"/>
</g>
<g stroke="#000" fill="#7faef0">
<path d="M141 1417H414M141 1474H414M141 1535H414" fill="none"/>
<rect x="127" y="1409" width="14" height="16"/><rect x="246" y="1409" width="24" height="16"/><rect x="414" y="1409" width="20" height="16"/>
<rect x="127" y="1466" width="14" height="16"/><rect x="246" y="1466" width="24" height="16"/><rect x="414" y="1466" width="20" height="16"/>
<rect x="127" y="1527" width="14" height="16"/><rect x="246" y="1527" width="24" height="16"/><rect x="414" y="1527" width="20" height="16"/>
</g>
<rect x="256" y="1466" width="7" height="16" fill="#e11"/><rect x="257" y="1527" width="3" height="16" fill="#e6a800"/>
<path d="M256 1482L92 1500M263 1482L500 1500" stroke="#e33" stroke-width=".7"/>
<path d="M257 1543L232 1555M260 1543L285 1555" stroke="#e6a800" stroke-width=".7"/>
<text x="92" y="1510" style="font-size:10px;font-weight:bold">GAGTGGCATCTCTGGCTACCGGGCTGGGGGCGACCTTTACCATAGGATGAAGTAACCT</text>
<text x="230" y="1566" style="font-size:10px;font-weight:bold">GATGAAGTA</text>

<g class="t">
<text x="688" y="1118" text-anchor="middle">wt</text><text x="780" y="1118" text-anchor="middle">del mut1</text><text x="882" y="1118" text-anchor="middle">del mut2</text>
<path d="M620 1124H720M727 1124H830M837 1124H935" stroke="#000"/>
<text transform="translate(628 1180) rotate(-45)">Scr</text><text transform="translate(672 1180) rotate(-45)">shDAP3</text>
<text transform="translate(738 1180) rotate(-45)">Scr</text><text transform="translate(780 1180) rotate(-45)">shDAP3</text>
<text transform="translate(846 1180) rotate(-45)">Scr</text><text transform="translate(890 1180) rotate(-45)">shDAP3</text>
<text x="540" y="1186">bp</text><text x="532" y="1210">500</text><text x="486" y="1236" style="font-size:16px">minigene</text><text x="532" y="1265">200</text>
<text x="532" y="1313">200</text><text x="508" y="1335" class="i" style="font-size:16px">ACTB</text><text x="532" y="1362">100</text>
</g>
<g fill="#e8e8e8" stroke="#333"><rect x="563" y="1183" width="356" height="89"/><rect x="563" y="1282" width="356" height="83"/></g>
<g fill="#222">
<rect x="568" y="1190" width="40" height="2" opacity=".4"/><rect x="568" y="1200" width="40" height="2" opacity=".4"/><rect x="568" y="1210" width="40" height="2" opacity=".4"/><rect x="568" y="1220" width="40" height="2" opacity=".4"/><rect x="568" y="1245" width="40" height="2" opacity=".4"/>
<rect x="617" y="1210" width="36" height="2" opacity=".5"/><rect x="665" y="1205" width="40" height="2" opacity=".6"/><rect x="665" y="1213" width="40" height="2" opacity=".6"/>
<rect x="617" y="1227" width="36" height="8"/><rect x="665" y="1227" width="40" height="8"/><rect x="720" y="1227" width="40" height="8"/><rect x="770" y="1227" width="40" height="8"/><rect x="822" y="1227" width="40" height="8"/><rect x="873" y="1227" width="40" height="8"/>
<rect x="617" y="1317" width="36" height="6"/><rect x="665" y="1317" width="40" height="6"/><rect x="720" y="1318" width="40" height="6"/><rect x="770" y="1318" width="40" height="6"/><rect x="822" y="1319" width="40" height="6"/><rect x="873" y="1320" width="40" height="6"/>
<rect x="570" y="1310" width="30" height="2" opacity=".3"/><rect x="570" y="1340" width="30" height="2" opacity=".3"/>
</g>
<g stroke="#333" fill="#fff" font-size="12">
<rect x="922" y="1188" width="80" height="14"/><rect x="950" y="1188" width="25" height="14" fill="#999"/>
<rect x="922" y="1207" width="78" height="14"/><rect x="948" y="1207" width="25" height="14" fill="#ddd"/>
<rect x="922" y="1227" width="53" height="14"/><path d="M948 1227V1241" />
</g>
<g class="s" style="font-size:12px"><text x="930" y="1200">5</text><text x="954" y="1200">6b</text><text x="984" y="1200">6</text><text x="930" y="1219">5</text><text x="954" y="1219">6a</text><text x="982" y="1219">6</text><text x="930" y="1239">5</text><text x="958" y="1239">6</text></g>
<path d="M625 1398V1540H910M621 1398H625M621 1445H625M621 1492H625M621 1540H625" stroke="#000" fill="none"/>
<g class="t" text-anchor="end"><text x="614" y="1404">30</text><text x="614" y="1451">20</text><text x="614" y="1498">10</text><text x="614" y="1546">0</text></g>
<text class="t" transform="translate(580 1460) rotate(-90)" text-anchor="middle">PSI %</text>
<rect x="640" y="1507" width="25" height="33" fill="#d9d9d9" stroke="#333"/>
<rect x="677" y="1415" width="25" height="125" fill="#3b8fe0" stroke="#333"/>
<g fill="#111"><circle cx="647" cy="1512" r="3.5"/><circle cx="655" cy="1500" r="3.5"/><circle cx="659" cy="1513" r="3.5"/><circle cx="684" cy="1405" r="3.5"/><circle cx="690" cy="1430" r="3.5"/><circle cx="692" cy="1418" r="3.5"/>
<circle cx="741" cy="1540" r="3.5"/><circle cx="750" cy="1540" r="3.5"/><circle cx="759" cy="1540" r="3.5"/><circle cx="777" cy="1540" r="3.5"/><circle cx="786" cy="1540" r="3.5"/><circle cx="795" cy="1540" r="3.5"/>
<circle cx="840" cy="1540" r="3.5"/><circle cx="849" cy="1540" r="3.5"/><circle cx="858" cy="1540" r="3.5"/><circle cx="876" cy="1540" r="3.5"/><circle cx="885" cy="1540" r="3.5"/><circle cx="894" cy="1540" r="3.5"/></g>
<path d="M650 1397H685M690 1397H783M690 1381H883" stroke="#000" stroke-width=".8"/>
<g class="t" text-anchor="middle"><text x="666" y="1395">**</text><text x="738" y="1395">**</text><text x="786" y="1379">**</text></g>

<g class="t">
<text transform="translate(1045 1180) rotate(-50)">beads only</text><text transform="translate(1082 1180) rotate(-50)">E6b wt</text>
<text transform="translate(1118 1180) rotate(-50)">E6b del mut1</text><text transform="translate(1155 1180) rotate(-50)">E6b del mut2</text>
<text x="1200" y="1192" style="font-size:13px">kDa</text><text x="1200" y="1213">Eluate</text><text x="1200" y="1270">FT</text>
<text x="1194" y="1232" style="font-size:13px">– 35</text><text x="1194" y="1294" style="font-size:13px">– 35</text>
</g>
<g fill="#ececec" stroke="#333"><rect x="1027" y="1190" width="167" height="38"/><rect x="1027" y="1245" width="167" height="45"/></g>
<g fill="#222">
<ellipse cx="1092" cy="1207" rx="17" ry="3" opacity=".8"/><ellipse cx="1128" cy="1208" rx="15" ry="3" opacity=".6"/><ellipse cx="1165" cy="1209" rx="13" ry="2" opacity=".3"/>
<ellipse cx="1050" cy="1266" rx="18" ry="6"/><ellipse cx="1090" cy="1266" rx="18" ry="6"/><ellipse cx="1128" cy="1266" rx="18" ry="6"/><ellipse cx="1167" cy="1266" rx="18" ry="7"/>
</g>
</svg>
</body></html>
